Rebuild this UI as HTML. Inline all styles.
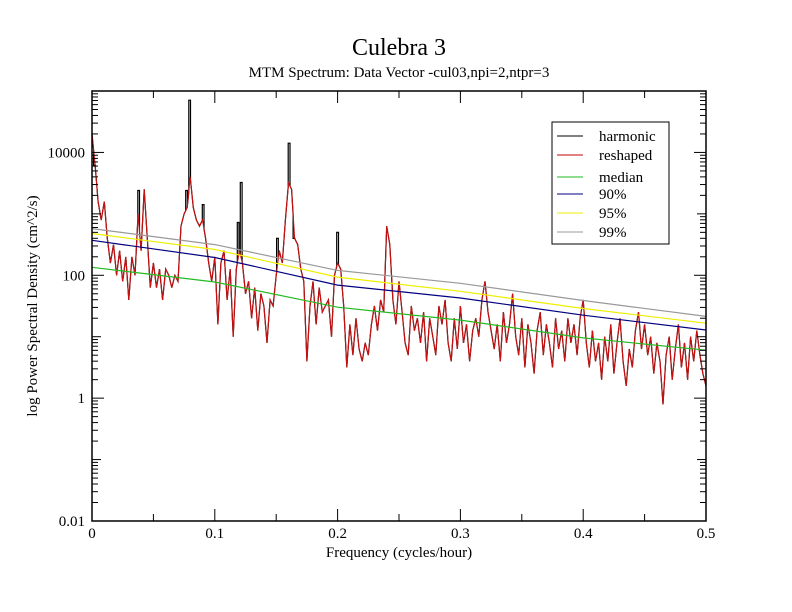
<!DOCTYPE html>
<html><head><meta charset="utf-8"><style>
body{margin:0;background:#fff}
svg{display:block;font-family:"Liberation Serif",serif}
</style></head><body>
<svg id="chart" width="792" height="612" viewBox="0 0 792 612" xmlns="http://www.w3.org/2000/svg">
<rect width="792" height="612" fill="#fff"/>
<text x="399" y="55" font-size="24" text-anchor="middle">Culebra 3</text>
<text x="399" y="77" font-size="15" text-anchor="middle">MTM Spectrum: Data Vector -cul03,npi=2,ntpr=3</text>
<g id="plot"></g>
<g id="axes"></g>
<text x="399" y="557" font-size="15" text-anchor="middle">Frequency (cycles/hour)</text>
<text transform="translate(37,306) rotate(-90)" font-size="15" text-anchor="middle">log Power Spectral Density (cm^2/s)</text>
<g>
<rect x="552" y="122" width="117" height="122" fill="#fff" stroke="#000" stroke-width="1"/>
<g><line x1="557" y1="136" x2="583" y2="136" stroke="#000"/><text x="599" y="141" font-size="15">harmonic</text></g>
<g><line x1="557" y1="155" x2="583" y2="155" stroke="#c00000"/><text x="599" y="160" font-size="15">reshaped</text></g>
<g><line x1="557" y1="177" x2="583" y2="177" stroke="#22bb22"/><text x="599" y="182" font-size="15">median</text></g>
<g><line x1="557" y1="194" x2="583" y2="194" stroke="#000080"/><text x="599" y="199" font-size="15">90%</text></g>
<g><line x1="557" y1="213" x2="583" y2="213" stroke="#eeee00"/><text x="599" y="218" font-size="15">95%</text></g>
<g><line x1="557" y1="232" x2="583" y2="232" stroke="#999"/><text x="599" y="237" font-size="15">99%</text></g>
</g>
</svg>
<script>
const freqStep = 0.0025;
const reshapedLog = [4.3,3.8,3.2,2.9,3.2,2.6,2.2,2.5,2.0,2.4,1.9,2.3,1.6,2.3,2.0,3.0,2.4,3.4,2.6,1.8,
2.2,1.8,2.1,1.6,2.1,2.0,1.8,2.0,1.9,2.8,3.0,3.1,3.6,3.1,2.9,2.8,2.9,2.6,2.2,1.9,
2.3,1.2,2.2,2.4,1.6,2.1,1.0,2.1,2.4,2.2,1.7,1.9,1.3,1.8,1.1,1.7,1.5,0.9,1.6,1.5,
2.0,2.4,2.2,2.9,3.5,3.4,2.6,2.5,2.1,1.9,0.6,1.5,1.9,1.2,1.8,1.4,1.5,1.6,1.0,2.0,
2.2,2.1,1.5,0.5,1.2,0.7,1.3,0.8,0.6,0.9,0.7,1.2,1.5,1.1,1.6,1.4,2.8,2.5,1.6,1.2,
1.9,1.4,0.9,0.7,1.5,1.1,1.3,0.9,1.4,0.6,1.3,1.0,0.7,1.5,1.2,1.6,0.9,0.6,1.3,0.8,
1.5,0.9,1.2,0.6,1.1,1.3,1.0,1.6,1.9,1.4,1.1,0.8,1.2,0.6,1.4,0.9,1.2,1.7,1.0,0.7,
1.3,0.5,1.2,0.9,0.4,1.1,1.4,0.7,1.2,0.9,0.5,1.3,0.8,1.1,0.6,1.3,0.9,1.2,0.7,1.3,
1.6,0.9,0.5,1.1,0.6,0.9,0.3,1.0,0.6,1.2,0.4,0.9,1.3,0.6,0.2,0.8,0.5,1.1,1.4,0.8,
1.2,0.7,1.0,0.4,0.9,0.6,-0.1,0.7,1.0,0.3,0.8,1.2,0.5,0.9,0.3,1.0,0.6,1.1,0.7,0.4,0.2];
const harmFreqs = [0.002,0.038,0.077,0.0795,0.0905,0.119,0.1215,0.151,0.1605,0.1645,0.2];
const harmLogs = [3.79,3.38,3.38,4.85,3.15,2.86,3.51,2.6,4.15,2.6,2.7];
const threshFreqs = [0,0.1,0.2,0.3,0.4,0.5];
const medianLog = [2.13,1.89,1.48,1.27,0.98,0.78];
const p90Log = [2.57,2.29,1.84,1.63,1.35,1.11];
const p95Log = [2.68,2.42,1.97,1.74,1.46,1.22];
const p99Log = [2.76,2.50,2.08,1.87,1.59,1.33];
const xTickLabels = ["0","0.1","0.2","0.3","0.4","0.5"];
const yTickLabels = ["0.01","1","100","10000"];

const X0=92,X1=706,Y0=521,Y1=91,LMIN=-2,LMAX=5;
const sx=f=>X0+(f/0.5)*(X1-X0);
const sy=l=>Y0-(l-LMIN)/(LMAX-LMIN)*(Y0-Y1);
const NS="http://www.w3.org/2000/svg";
const plot=document.getElementById('plot'), axes=document.getElementById('axes');
function mk(tag,attrs,parent){const e=document.createElementNS(NS,tag);for(const k in attrs)e.setAttribute(k,attrs[k]);parent.appendChild(e);return e;}
function interp(f){const i=f/freqStep;const a=Math.floor(i),b=Math.min(a+1,reshapedLog.length-1);const t=i-a;return reshapedLog[a]*(1-t)+reshapedLog[b]*t;}

// threshold curves
function curve(arr,color,name){
  const pts=threshFreqs.map((f,i)=>sx(f).toFixed(1)+','+sy(arr[i]).toFixed(1)).join(' ');
  const el=mk('polyline',{points:pts,fill:'none',stroke:color,'stroke-width':1.2},plot);
  
  
}
// harmonic (black) drawn first
const hb=[];
for(let i=0;i<reshapedLog.length;i++){
  const f=i*freqStep;
  hb.push([f,reshapedLog[i]]);
}
const hpts=[];
let hi=0;
const sortedH=harmFreqs.map((f,i)=>[f,harmLogs[i]]).sort((a,b)=>a[0]-b[0]);
for(let i=0;i<hb.length;i++){
  const f=hb[i][0];
  while(hi<sortedH.length && sortedH[hi][0]<=f){
    const [hf,hl]=sortedH[hi];const d=0.0007;
    hpts.push([hf-d,interp(Math.max(0,hf-d))],[hf-d,hl],[hf+d,hl],[hf+d,interp(hf+d)]);
    hi++;
  }
  hpts.push(hb[i]);
}
const harm=mk('polyline',{points:hpts.map(p=>sx(p[0]).toFixed(1)+','+sy(p[1]).toFixed(1)).join(' '),fill:'none',stroke:'#000','stroke-width':1.2},plot);


const red=mk('polyline',{points:reshapedLog.map((l,i)=>sx(i*freqStep).toFixed(1)+','+sy(l).toFixed(1)).join(' '),fill:'none',stroke:'#cc1010','stroke-width':1.1},plot);


curve(medianLog,'#22bb22','median-line');
curve(p90Log,'#000080','p90-line');
curve(p95Log,'#eeee00','p95-line');
curve(p99Log,'#999999','p99-line');

// frame
const fr=mk('rect',{x:X0,y:Y1,width:X1-X0,height:Y0-Y1,fill:'none',stroke:'#000','stroke-width':1.5},axes);


// x ticks
for(let k=0;k<=10;k++){
  const x=sx(k*0.05);const len=k%2==0?12:7;
  mk('line',{x1:x,y1:Y0,x2:x,y2:Y0-len,stroke:'#000'},axes);
  mk('line',{x1:x,y1:Y1,x2:x,y2:Y1+len,stroke:'#000'},axes);
}
xTickLabels.forEach((t,i)=>{
  const el=mk('text',{x:sx(i*0.1),y:Y0+17,'font-size':15,'text-anchor':'middle'},axes);
  el.textContent=t;
  
  
});
// y ticks
for(let d=LMIN;d<LMAX;d++){
  const y=sy(d);const len=d%2==0?12:9;
  mk('line',{x1:X0,y1:y,x2:X0+len,y2:y,stroke:'#000'},axes);
  mk('line',{x1:X1,y1:y,x2:X1-len,y2:y,stroke:'#000'},axes);
  for(let m=2;m<=9;m++){
    const ym=sy(d+Math.log10(m));
    mk('line',{x1:X0,y1:ym,x2:X0+6,y2:ym,stroke:'#000'},axes);
    mk('line',{x1:X1,y1:ym,x2:X1-6,y2:ym,stroke:'#000'},axes);
  }
}
yTickLabels.forEach((t,i)=>{
  const el=mk('text',{x:X0-7,y:sy(-2+2*i)+5,'font-size':15,'text-anchor':'end'},axes);
  el.textContent=t;
  
  
});
</script>
</body></html>
